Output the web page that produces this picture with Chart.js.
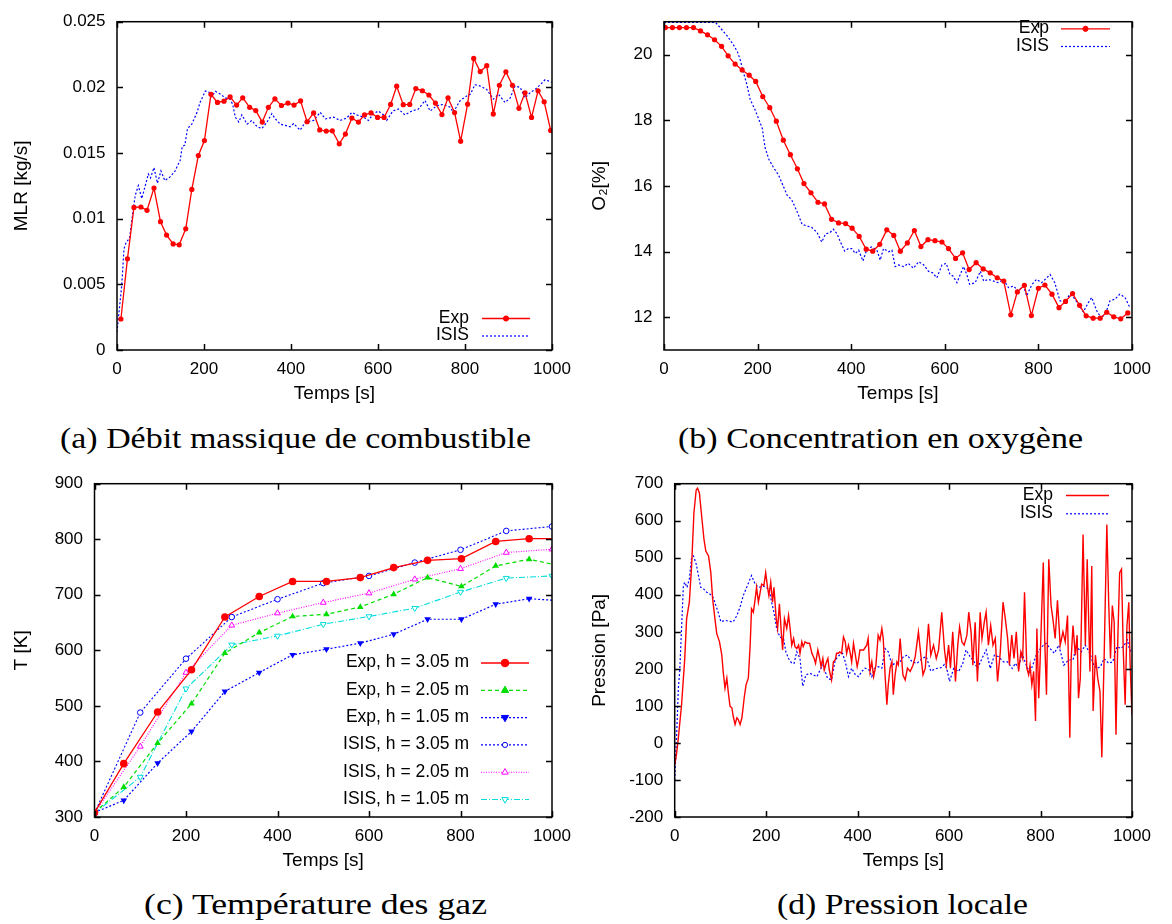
<!DOCTYPE html>
<html>
<head>
<meta charset="utf-8">
<script src="https://cdn.jsdelivr.net/npm/chart.js@4.4.1/dist/chart.umd.min.js"></script>
<style>
body { margin: 0; background: #fff; }
#page { position: relative; width: 1172px; height: 924px; overflow: hidden; background: #fff; }
canvas { position: absolute; }
.cap { position: absolute; font-family: 'Liberation Serif', serif; font-size: 30px; line-height: 30px; white-space: nowrap; color: #000; transform-origin: 0 0; }
</style>
</head>
<body>
<div id="page">
  <canvas id="mlrChart" width="580" height="410" style="left:0px;top:0px"></canvas>
  <canvas id="o2Chart" width="592" height="410" style="left:580px;top:0px"></canvas>
  <canvas id="tempChart" width="580" height="414" style="left:0px;top:462px"></canvas>
  <canvas id="presChart" width="592" height="414" style="left:580px;top:462px"></canvas>
  <div class="cap" data-x0="60" data-x1="531" style="top:423px">(a) Débit massique de combustible</div>
  <div class="cap" data-x0="678" data-x1="1083" style="top:423px">(b) Concentration en oxygène</div>
  <div class="cap" data-x0="144" data-x1="487" style="top:889px">(c) Température des gaz</div>
  <div class="cap" data-x0="777" data-x1="1028" style="top:889px">(d) Pression locale</div>
</div>
<script>
// ---- data ----
const timeTicks = [0, 200, 400, 600, 800, 1000];
const timeTickLabels = ["0", "200", "400", "600", "800", "1000"];

// (a) mass loss rate
const mlrTicks = [0, 0.005, 0.01, 0.015, 0.02, 0.025];
const mlrTickLabels = ["0", "0.005", "0.01", "0.015", "0.02", "0.025"];
const mlrExpT = [9,24,39,55,69,85,100,114,129,143, 158,172,187,201,216,231,246,260,275,289,
    305,319,334,348,363,378,393,407,422,437, 452,466,481,495,511,525,540,555,569,584,
    599,614,629,643,658,673,687,702,717,732, 747,761,776,790,806,820,835,850,865,879,
    894,909,924,938,953,968,982,997];
const mlrExp = [0.00236,0.00694,0.01086,0.01089,0.01064,0.01233,0.00977,0.00875,0.00808,0.00801,
    0.00923,0.01223,0.01481,0.01595,0.01947,0.01885,0.01895,0.01927,0.01865,0.01920,
    0.01848,0.01823,0.01736,0.01848,0.01912,0.01862,0.01880,0.01865,0.01897,0.01738,
    0.01805,0.01676,0.01667,0.01669,0.01570,0.01644,0.01766,0.01736,0.01790,0.01805,
    0.01771,0.01771,0.01870,0.02009,0.01868,0.01870,0.01991,0.01974,0.01942,0.01880,
    0.01793,0.01920,0.01808,0.01590,0.01872,0.02220,0.02120,0.02165,0.01798,0.02016,
    0.02118,0.02016,0.01840,0.01959,0.01771,0.01974,0.01890,0.01672];
const mlrIsisT = [0,11,16,21,29,38,42,49,57,64, 72,77,85,93,101,110,122,133,140,145,
    150,156,162,172,184,191,203,211,218,226, 237,249,260,266,272,280,287,299,310,322,
    333,345,356,364,375,387,398,406,421,433, 452,467,479,498,513,528,540,551,567,578,
    590,601,613,620,634,647,662,678,693,708, 720,735,750,766,773,789,804,812,823,835,
    850,865,877,892,904,915,927,938,950,961, 973,984,999];
const mlrIsis = [0.00136,0.00496,0.00769,0.0082,0.0085,0.0109,0.01178,0.01252,0.01153,0.0124,
    0.0134,0.0131,0.01389,0.0127,0.01364,0.0129,0.01318,0.0136,0.0141,0.0144,
    0.0155,0.0156,0.01686,0.0172,0.0181,0.01885,0.01972,0.01964,0.0193,0.0197,
    0.0195,0.0192,0.0191,0.0187,0.01773,0.01736,0.0179,0.0172,0.01748,0.0170,
    0.01686,0.01736,0.018,0.0176,0.0172,0.0171,0.0170,0.01724,0.01674,0.01736,
    0.01748,0.0181,0.0176,0.01773,0.01748,0.01766,0.0181,0.0179,0.01773,0.01748,
    0.0180,0.0182,0.0179,0.01748,0.0182,0.01835,0.0179,0.0182,0.01835,0.0190,
    0.0182,0.0186,0.0187,0.01848,0.0181,0.0190,0.01934,0.01947,0.0202,0.0201,
    0.01984,0.0191,0.01947,0.01885,0.0192,0.0201,0.0200,0.0192,0.0196,0.01984,
    0.0202,0.02058,0.0204];

// (b) oxygen
const o2Ticks = [12, 14, 16, 18, 20];
const o2TickLabels = ["12", "14", "16", "18", "20"];
const o2ExpT = [3,18,33,48,63,78,93,108,123,137, 152,167,182,196,211,226,240,255,270,285,
    299,314,329,343,358,373,388,402,417,432, 446,461,476,491,505,520,535,549,564,579,
    594,608,623,638,652,667,682,697,712,726, 741,755,770,785,800,814,829,844,858,873,
    888,902,917,932,946,961,976,991];
const o2Exp = [20.82,20.82,20.82,20.82,20.82,20.72,20.60,20.45,20.25,19.96,
    19.71,19.53,19.37,19.18,18.72,18.38,17.97,17.39,16.95,16.52,
    16.07,15.79,15.50,15.45,14.98,14.87,14.85,14.71,14.46,14.07,
    14.01,14.22,14.66,14.49,14.01,14.26,14.64,14.15,14.36,14.33,
    14.29,14.09,13.79,13.96,13.45,13.66,13.47,13.35,13.20,13.10,
    12.07,12.77,12.97,12.05,12.88,12.98,12.70,12.29,12.48,12.72,
    12.36,12.04,11.97,11.97,12.15,12.01,11.95,12.13];
const o2IsisT = [0,50,110,120,135,149,157,163,170,177, 184,195,202,210,216,224,234,245,254,263,
    273,284,295,305,316,327,337,345,355,362, 370,377,386,394,401,409,416,425,434,444,
    455,462,469,480,487,494,501,512,522,533, 544,555,565,574,583,594,603,611,618,626,
    633,640,647,653,665,676,683,693,704,714, 725,736,747,757,768,775,786,796,807,818,
    825,835,846,857,867,875,885,896,907,914, 924,935,946,953,964,974,985,995];
const o2Isis = [20.98,20.98,20.98,20.82,20.57,20.28,20.08,19.83,19.44,19.09,
    18.64,18.30,18.05,17.75,17.16,16.81,16.56,16.32,16.02,15.72,
    15.57,15.23,14.83,14.78,14.73,14.58,14.29,14.53,14.58,14.68,
    14.53,14.29,14.01,14.09,14.09,13.94,14.04,13.71,14.09,14.14,
    14.04,13.74,14.09,13.99,14.04,13.54,13.59,13.54,13.64,13.49,
    13.69,13.59,13.40,13.35,13.20,13.59,13.64,13.30,13.25,13.05,
    13.30,13.54,13.30,13.00,13.05,13.40,13.10,13.15,13.10,13.05,
    13.15,12.90,12.95,12.80,12.95,12.65,12.99,13.15,13.05,13.20,
    13.30,13.05,12.50,12.45,12.70,12.60,12.41,12.16,12.45,12.60,
    12.21,11.96,12.21,12.50,12.55,12.70,12.60,12.31];

// (c) gas temperature
const tempTicks = [300, 400, 500, 600, 700, 800, 900];
const tempTickLabels = ["300", "400", "500", "600", "700", "800", "900"];
const tempExpT = [0,64,138,212,285,360,433,507,581,654,728,802,877,950,1024];
const tempExp305 = [308,396,489,565,660,697,724,724,731,749,762,765,796,801,801];
const tempExp205 = [308,354,433,504,595,632,661,665,678,701,731,715,752,764,751];
const tempExp105 = [308,330,397,454,526,560,592,602,613,629,656,656,683,693,689];
const tempIsisT = [0,100,200,300,400,500,600,700,800,900,1000];
const tempIsis305 = [307,488,585,660,692,721,734,758,781,815,823];
const tempIsis205 = [307,427,560,645,667,686,703,728,747,776,782];
const tempIsis105 = [307,372,531,610,626,647,661,676,705,730,734];

// (d) local pressure
const presTicks = [-200, -100, 0, 100, 200, 300, 400, 500, 600, 700];
const presTickLabels = ["-200", "-100", "0", "100", "200", "300", "400", "500", "600", "700"];
const presExpT = [0,4,8,15,22,26,32,37,42,47, 50,54,59,64,68,74,79,83,88,92,
    98,103,106,110,114,117,121,125,128,132, 136,139,143,147,152,156,161,165,168,172,
    176,179,183,187,190,195,199,203,206,210, 214,217,222,225,229,233,236,240,245,249,
    252,256,260,263,267,271,274,278,281,285, 290,295,300,305,308,313,317,320,324,327,
    331,335,338,343,347,351,354,358,361,365, 369,373,376,380,384,387,391,394,399,402,
    405,413,420,423,427,431,435,440,445,449, 453,456,460,464,467,471,475,478,482,486,
    489,493,499,504,509,515,521,526,533,539, 543,548,555,560,566,572,577,584,590,594,
    599,603,608,614,619,623,628,633,639,643, 648,652,657,662,668,672,677,681,686,691,
    696,701,706,712,718,723,728,732,737,742, 747,752,757,761,765,770,774,777,781,785,
    789,792,796,799,806,809,813,818,823,827, 832,837,843,849,854,859,864,867,871,876,
    880,883,887,893,898,902,908,912,915,920, 925,930,934,939,945,949,953,957,961,965,
    969,973,977,981,985,989,993,996,1000];
const presExp = [-60,-30,14,103,228,335,380,478,621,683, 688,675,612,550,518,505,460,389,335,295,
    273,237,193,148,175,139,99,95,72,50, 68,63,50,68,122,157,175,264,362,353,
    389,420,380,407,429,425,460,420,398,434, 380,420,335,309,376,300,251,335,309,344,
    313,264,282,260,255,264,242,273,260,273, 269,269,242,228,215,251,228,206,228,197,
    215,228,197,170,219,224,242,242,246,242, 286,273,242,264,242,219,269,246,206,224,
    251,251,264,282,193,219,179,210,291,278, 309,282,184,103,157,202,219,130,184,219,
    211,282,184,170,202,193,210,233,300,228, 184,202,322,237,264,228,251,353,251,210,
    264,202,300,166,264,313,273,264,291,353, 300,210,326,166,353,282,326,353,264,317,
    264,282,166,246,380,335,282,210,291,228, 300,193,246,228,407,202,184,210,157,193,
    59,309,121,219,487,282,130,496,371,335, 282,385,264,300,273,344,14,228,317,237,
    291,121,175,563,264,496,193,478,86,237, 175,139,-39,228,590,380,228,371,326,22,
    282,460,469,246,103,317,380,210,76];
const presIsisT = [0,4,8,11,15,19,22,27,32,37, 41,47,52,57,63,70,77,84,90,95,
    101,110,121,128,136,143,150,159,168,176, 183,194,201,207,212,217,223,230,238,243,
    249,256,261,267,274,280,287,296,303,311, 318,324,329,334,343,351,360,367,373,380,
    387,395,402,409,416,425,431,438,445,453, 460,467,475,482,493,500,509,519,530,541,
    550,560,572,582,590,595,601,610,621,630, 637,646,655,662,672,681,690,699,708,719,
    728,738,745,752,759,769,776,783,792,803, 812,821,830,840,851,861,871,878,889,898,
    908,916,923,931,939,949,958,967,976,983, 990,994,1000];
const presIsis = [-100,14,148,193,309,425,434,420,443,501, 505,483,452,420,416,407,402,393,371,353,
    327,331,328,327,344,367,398,425,452,429, 420,423,420,411,380,353,309,286,282,246,
    228,215,215,246,228,153,184,188,184,179, 197,210,193,175,170,224,237,242,219,179,
    202,184,179,193,202,197,179,202,206,202, 255,246,210,215,219,233,237,219,215,228,
    233,194,201,203,212,201,166,201,193,215, 251,233,219,201,228,251,201,237,233,219,
    219,201,215,201,242,210,188,210,242,260, 269,255,242,264,210,224,224,260,246,264,
    242,210,201,206,228,215,219,260,255,264, 278,255,242];

// ---- styling helpers ----
Chart.defaults.font.family = "'Liberation Sans', Arial, sans-serif";
Chart.defaults.color = "#000";
Chart.defaults.animation = false;

const RED = "#ff0000", BLUE = "#0000ff", GREEN = "#00dd00", MAGENTA = "#ff00ff", CYAN = "#00dddd";

function pts(xs, ys) {
    return xs.map((x, i) => ({ x: x, y: ys[i] }));
}

function drawMark(ctx, item, x, y) {
    if (!item.mark) return;
    const r = item.r;
    ctx.save();
    ctx.setLineDash([]);
    ctx.lineWidth = 1;
    ctx.strokeStyle = item.color;
    ctx.fillStyle = item.fill ? item.color : "#fff";
    ctx.beginPath();
    if (item.mark === "circle") {
        ctx.arc(x, y, r, 0, Math.PI * 2);
    } else {
        const s = item.mark === "down" ? -1 : 1;
        ctx.moveTo(x, y - s * r * 1.15);
        ctx.lineTo(x + r, y + s * r * 0.6);
        ctx.lineTo(x - r, y + s * r * 0.6);
        ctx.closePath();
    }
    ctx.fill();
    ctx.stroke();
    ctx.restore();
}

// frame, inward ticks on all sides, and a gnuplot style key
const gnuplotLook = {
    id: "gnuplotLook",
    afterDraw(chart) {
        const { ctx, chartArea: a, scales } = chart;
        const tick = 6;
        ctx.save();
        ctx.strokeStyle = "#000";
        ctx.lineWidth = 1.5;
        ctx.beginPath();
        scales.x.ticks.forEach(t => {
            const px = Math.round(scales.x.getPixelForValue(t.value)) + 0.5;
            ctx.moveTo(px, a.bottom); ctx.lineTo(px, a.bottom - tick);
            ctx.moveTo(px, a.top); ctx.lineTo(px, a.top + tick);
        });
        scales.y.ticks.forEach(t => {
            const py = Math.round(scales.y.getPixelForValue(t.value)) + 0.5;
            ctx.moveTo(a.left, py); ctx.lineTo(a.left + tick, py);
            ctx.moveTo(a.right, py); ctx.lineTo(a.right - tick, py);
        });
        ctx.stroke();
        ctx.strokeRect(a.left, a.top, a.right - a.left, a.bottom - a.top);

        const key = chart.options.plugins.gpKey;
        if (key) {
            ctx.font = "17.5px 'Liberation Sans', Arial, sans-serif";
            ctx.textAlign = "right";
            ctx.textBaseline = "middle";
            key.items.forEach((item, i) => {
                const y = key.y0 + i * key.dy;
                ctx.fillStyle = "#000";
                ctx.fillText(item.text, key.right, y);
                ctx.strokeStyle = item.color;
                ctx.lineWidth = item.width || 1.3;
                ctx.setLineDash(item.dash || []);
                ctx.beginPath();
                ctx.moveTo(key.x0, y + 0.5);
                ctx.lineTo(key.x1, y + 0.5);
                ctx.stroke();
                drawMark(ctx, item, (key.x0 + key.x1) / 2, y + 0.5);
            });
        }
        ctx.restore();
    }
};

function makePanel(id, p) {
    return new Chart(document.getElementById(id), {
        type: "line",
        data: { datasets: p.datasets },
        options: {
            responsive: false,
            devicePixelRatio: 1,
            layout: { padding: p.padding },
            plugins: {
                legend: { display: false },
                tooltip: { enabled: false },
                gpKey: p.key
            },
            scales: {
                x: {
                    type: "linear",
                    min: 0,
                    max: 1000,
                    afterBuildTicks: s => { s.ticks = timeTicks.map(v => ({ value: v })); },
                    afterFit: s => { s.height = p.xHeight; },
                    grid: { display: false, drawTicks: false },
                    border: { display: false },
                    ticks: { padding: 9, maxRotation: 0, autoSkip: false, font: { size: 17 }, callback: (v, i) => timeTickLabels[i] },
                    title: { display: true, text: "Temps [s]", font: { size: 19 }, padding: { top: 0, bottom: p.xTitlePad } }
                },
                y: {
                    type: "linear",
                    min: p.yMin,
                    max: p.yMax,
                    afterBuildTicks: s => { s.ticks = p.yTicks.map(v => ({ value: v })); },
                    afterFit: s => { s.width = p.yWidth; },
                    grid: { display: false, drawTicks: false },
                    border: { display: false },
                    ticks: { padding: 11.5, autoSkip: false, font: { size: 17 }, callback: (v, i) => p.yLabels[i] },
                    title: { display: true, text: p.yTitle, font: { size: 19 }, padding: { top: p.yTitlePad, bottom: 0 } }
                }
            }
        },
        plugins: [gnuplotLook]
    });
}

// (a)
makePanel("mlrChart", {
    padding: { left: 0, top: 14, right: 28, bottom: 0 },
    yWidth: 117, xHeight: 60, xTitlePad: 4.6, yTitlePad: 10.6,
    yMin: 0, yMax: 0.025, yTicks: mlrTicks, yLabels: mlrTickLabels, yTitle: "MLR [kg/s]",
    datasets: [
        { data: pts(mlrExpT, mlrExp), borderColor: RED, backgroundColor: RED, borderWidth: 1.3,
          pointRadius: 2.6, pointBackgroundColor: RED, pointBorderWidth: 0 },
        { data: pts(mlrIsisT, mlrIsis), borderColor: BLUE, borderWidth: 1.2, borderDash: [2, 2], pointRadius: 0 }
    ],
    key: { right: 469, x0: 482, x1: 530, y0: 318, dy: 17.5, items: [
        { text: "Exp", color: RED, mark: "circle", r: 2.6, fill: true },
        { text: "ISIS", color: BLUE, dash: [2, 2], width: 1.2 }
    ] }
});

// (b)
makePanel("o2Chart", {
    padding: { left: 0, top: 14, right: 40, bottom: 0 },
    yWidth: 84, xHeight: 60, xTitlePad: 4.6, yTitlePad: 8.6,
    yMin: 11, yMax: 21, yTicks: o2Ticks, yLabels: o2TickLabels, yTitle: "O₂[%]",
    datasets: [
        { data: pts(o2ExpT, o2Exp), borderColor: RED, backgroundColor: RED, borderWidth: 1.3,
          pointRadius: 2.6, pointBackgroundColor: RED, pointBorderWidth: 0 },
        { data: pts(o2IsisT, o2Isis), borderColor: BLUE, borderWidth: 1.2, borderDash: [2, 2], pointRadius: 0 }
    ],
    key: { right: 469, x0: 481, x1: 530, y0: 28.3, dy: 17.7, items: [
        { text: "Exp", color: RED, mark: "circle", r: 2.6, fill: true },
        { text: "ISIS", color: BLUE, dash: [2, 2], width: 1.2 }
    ] }
});

// (c)
const tempKey = [
    { text: "Exp, h = 3.05 m", color: RED, mark: "circle", r: 3.8, fill: true },
    { text: "Exp, h = 2.05 m", color: GREEN, dash: [4, 3], mark: "up", r: 3.6, fill: true },
    { text: "Exp, h = 1.05 m", color: BLUE, dash: [2, 2], mark: "down", r: 3.6, fill: true },
    { text: "ISIS, h = 3.05 m", color: BLUE, dash: [2, 2], mark: "circle", r: 2.6, fill: false, width: 1.1 },
    { text: "ISIS, h = 2.05 m", color: MAGENTA, dash: [1, 1.5], mark: "up", r: 3.2, fill: false, width: 1.1 },
    { text: "ISIS, h = 1.05 m", color: CYAN, dash: [6, 2, 1, 2], mark: "down", r: 3.2, fill: false, width: 1.1 }
];
makePanel("tempChart", {
    padding: { left: 0, top: 18.7, right: 28, bottom: 0 },
    yWidth: 94.5, xHeight: 59, xTitlePad: 3.6, yTitlePad: 10.6,
    yMin: 300, yMax: 900, yTicks: tempTicks, yLabels: tempTickLabels, yTitle: "T [K]",
    datasets: [
        { data: pts(tempExpT, tempExp305), borderColor: RED, borderWidth: 1.3,
          pointRadius: 3.8, pointBackgroundColor: RED, pointBorderColor: RED, pointBorderWidth: 0 },
        { data: pts(tempExpT, tempExp205), borderColor: GREEN, borderWidth: 1.2, borderDash: [4, 3],
          pointStyle: "triangle", pointRadius: 3.8, pointBackgroundColor: GREEN, pointBorderColor: GREEN, pointBorderWidth: 0 },
        { data: pts(tempExpT, tempExp105), borderColor: BLUE, borderWidth: 1.2, borderDash: [2, 2],
          pointStyle: "triangle", pointRotation: 180, pointRadius: 3.8, pointBackgroundColor: BLUE, pointBorderColor: BLUE, pointBorderWidth: 0 },
        { data: pts(tempIsisT, tempIsis305), borderColor: BLUE, borderWidth: 1.1, borderDash: [2, 2],
          pointRadius: 2.8, pointBackgroundColor: "#fff", pointBorderColor: BLUE, pointBorderWidth: 1 },
        { data: pts(tempIsisT, tempIsis205), borderColor: MAGENTA, borderWidth: 1.1, borderDash: [1, 1.5],
          pointStyle: "triangle", pointRadius: 3.4, pointBackgroundColor: "#fff", pointBorderColor: MAGENTA, pointBorderWidth: 1 },
        { data: pts(tempIsisT, tempIsis105), borderColor: CYAN, borderWidth: 1.1, borderDash: [6, 2, 1, 2],
          pointStyle: "triangle", pointRotation: 180, pointRadius: 3.4, pointBackgroundColor: "#fff", pointBorderColor: CYAN, pointBorderWidth: 1 }
    ],
    key: { right: 469, x0: 481, x1: 529, y0: 200.5, dy: 27.3, items: tempKey }
});

// (d)
makePanel("presChart", {
    padding: { left: 0, top: 18.7, right: 40, bottom: 0 },
    yWidth: 94.7, xHeight: 59, xTitlePad: 3.6, yTitlePad: 8.6,
    yMin: -200, yMax: 700, yTicks: presTicks, yLabels: presTickLabels, yTitle: "Pression [Pa]",
    datasets: [
        { data: pts(presExpT, presExp), borderColor: RED, borderWidth: 1.4, pointRadius: 0 },
        { data: pts(presIsisT, presIsis), borderColor: BLUE, borderWidth: 1.2, borderDash: [2, 2], pointRadius: 0 }
    ],
    key: { right: 473, x0: 486, x1: 529, y0: 33, dy: 18.3, items: [
        { text: "Exp", color: RED },
        { text: "ISIS", color: BLUE, dash: [2, 2], width: 1.2 }
    ] }
});

// captions: fit each one to the width it takes in the figure
document.querySelectorAll(".cap").forEach(el => {
    const x0 = +el.dataset.x0, x1 = +el.dataset.x1;
    const w = el.getBoundingClientRect().width;
    el.style.left = x0 + "px";
    el.style.transform = "scaleX(" + ((x1 - x0) / w) + ")";
});
</script>
</body>
</html>
